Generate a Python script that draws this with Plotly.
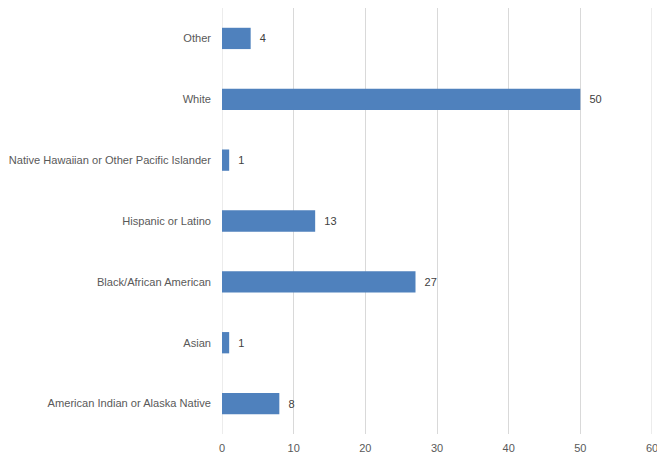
import plotly.graph_objects as go

categories = ["American Indian or Alaska Native", "Asian", "Black/African American",
              "Hispanic or Latino", "Native Hawaiian or Other Pacific Islander", "White", "Other"]
values = [8, 1, 27, 13, 1, 50, 4]
x_ticks = [0, 10, 20, 30, 40, 50, 60]

font_fam = "Liberation Sans, Arial, sans-serif"
fig = go.Figure(go.Bar(
    y=categories, x=values, orientation="h",
    marker=dict(color="#4F81BD", line=dict(width=0)),
    text=["  " + str(v) for v in values], textposition="outside",
    textfont=dict(family=font_fam, size=11, color="#404040"),
    cliponaxis=False,
))
fig.update_layout(
    width=657, height=454,
    margin=dict(l=222, r=5, t=8, b=20),
    paper_bgcolor="white", plot_bgcolor="white",
    bargap=0.65, showlegend=False,
    font=dict(family=font_fam, size=11, color="#595959"),
)
fig.update_xaxes(range=[0, 60], tickvals=x_ticks, showgrid=True, gridcolor="#D9D9D9",
                 gridwidth=1, zeroline=False, showline=False, ticks="", automargin=False,
                 ticklabeloverflow="allow", ticklabelstandoff=6,
                 tickfont=dict(size=11, color="#595959"))
fig.update_yaxes(showgrid=False, zeroline=False, showline=False, ticks="", automargin=False,
                 ticklabelstandoff=10, tickfont=dict(size=11.1, color="#595959"),
                 categoryorder="array", categoryarray=categories)
for xv in (x_ticks[0], x_ticks[-1]):
    fig.add_shape(type="line", xref="x", yref="paper", x0=xv, x1=xv, y0=0, y1=1,
                  line=dict(color="#D9D9D9", width=1), layer="below")
fig.write_html("out.html", config={"displayModeBar": False},
               post_script="document.body.style.margin='0';document.body.style.overflow='hidden';")
